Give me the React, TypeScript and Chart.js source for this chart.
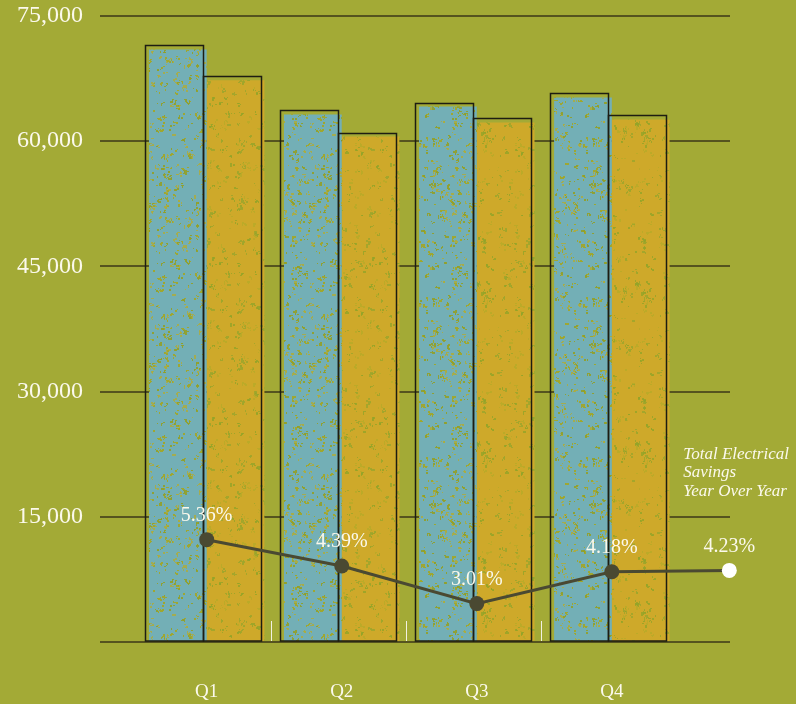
import { useEffect, useRef } from 'react';
import { Chart, registerables } from 'chart.js';

Chart.register(...registerables);

const quarters = ['Q1', 'Q2', 'Q3', 'Q4'];
const seriesBlue = [71000, 63200, 64150, 65250];
const seriesGold = [67300, 60550, 62250, 62600];
const savingsPct = [5.36, 4.39, 3.01, 4.18, 4.23];
const savingsX = [1, 2, 3, 4, 4.87];
const yTickValues = [0, 15000, 30000, 45000, 60000, 75000];
const noteLines = ['Total Electrical', 'Savings', 'Year Over Year'];

const BG = '#a3aa36';
const BLUE = '#73afb6';
const GOLD = '#cea92a';
const GRID = '#55531f';
const DARK = '#4a4932';
const TEXT = '#fbf9ec';
const SERIF = '"Liberation Serif", "DejaVu Serif", serif';

function makePattern(ctx: CanvasRenderingContext2D, base: string, seed: number, speck: string[], count: number) {
  const size = 160;
  const c = document.createElement('canvas');
  c.width = size;
  c.height = size;
  const g = c.getContext('2d')!;
  g.fillStyle = base;
  g.fillRect(0, 0, size, size);
  let s = seed >>> 0;
  const rnd = () => {
    s = (Math.imul(s, 1103515245) + 12345) >>> 0;
    return s / 4294967296;
  };
  for (let i = 0; i < count; i++) {
    const cx = Math.floor(rnd() * size);
    const cy = Math.floor(rnd() * size);
    g.fillStyle = speck[Math.floor(rnd() * speck.length)];
    const n = 1 + Math.floor(rnd() * 5);
    for (let k = 0; k < n; k++) {
      const x = cx + Math.floor(rnd() * 4) - 1;
      const y = cy + Math.floor(rnd() * 4) - 1;
      const w = 1 + Math.floor(rnd() * 2);
      const h = 1 + Math.floor(rnd() * 2);
      g.fillRect((x + size) % size, (y + size) % size, w, h);
    }
  }
  return ctx.createPattern(c, 'repeat')!;
}

const barOutlinePlugin = {
  id: 'barOutlines',
  beforeDatasetDraw(chart: any, args: any) {
    if (args.index !== 2) return;
    const ctx = chart.ctx as CanvasRenderingContext2D;
    ctx.save();
    ctx.strokeStyle = '#1d1d12';
    ctx.lineWidth = 1.5;
    [0, 1].forEach((di) => {
      chart.getDatasetMeta(di).data.forEach((el: any) => {
        const { x, y, base, width } = el.getProps(['x', 'y', 'base', 'width'], true);
        const left = Math.round(x - width / 2 - 4) + 0.5;
        const top = Math.round(y - 4) + 0.5;
        ctx.strokeRect(left, top, Math.round(width), Math.round(base) - top);
      });
    });
    ctx.restore();
  },
  afterDatasetDraw(chart: any, args: any) {
    if (args.index !== 2) return;
    const ctx = chart.ctx as CanvasRenderingContext2D;
    ctx.save();
    ctx.fillStyle = TEXT;
    ctx.font = `20px ${SERIF}`;
    ctx.textAlign = 'center';
    ctx.textBaseline = 'middle';
    chart.getDatasetMeta(2).data.forEach((el: any, i: number) => {
      ctx.fillText(`${savingsPct[i].toFixed(2)}%`, el.x, el.y - 24);
    });
    ctx.restore();
  },
  afterDraw(chart: any) {
    const ctx = chart.ctx as CanvasRenderingContext2D;
    const xs = chart.scales.x;
    const bottom = chart.chartArea.bottom;
    ctx.save();
    ctx.strokeStyle = '#f2f1e2';
    ctx.lineWidth = 1;
    for (let i = 1; i < quarters.length; i++) {
      const px = Math.round(xs.getPixelForValue(i + 0.5) - 3) + 0.5;
      ctx.beginPath();
      ctx.moveTo(px, bottom - 21);
      ctx.lineTo(px, bottom - 1);
      ctx.stroke();
    }
    ctx.fillStyle = TEXT;
    ctx.font = `italic 17px ${SERIF}`;
    ctx.textAlign = 'left';
    ctx.textBaseline = 'middle';
    const last = chart.getDatasetMeta(2).data[savingsPct.length - 1];
    noteLines.forEach((t, i) => {
      ctx.fillText(t, last.x - 46, last.y - 116 + i * 18.5);
    });
    ctx.restore();
  },
};

export default function App() {
  const ref = useRef<HTMLCanvasElement | null>(null);

  useEffect(() => {
    document.body.style.margin = '0';
    document.body.style.background = BG;
    const canvas = ref.current!;
    const ctx = canvas.getContext('2d')!;
    const bluePat = makePattern(ctx, BLUE, 9137, ['rgba(160,166,44,0.95)', 'rgba(146,160,40,0.9)', 'rgba(172,172,64,0.85)'], 520);
    const goldPat = makePattern(ctx, GOLD, 4271, ['rgba(158,166,44,0.85)', 'rgba(148,164,40,0.8)', 'rgba(186,170,40,0.9)'], 380);

    const chart = new Chart(canvas, {
      type: 'bar',
      data: {
        datasets: [
          {
            type: 'bar',
            label: 'Blue',
            data: quarters.map((_, i) => ({ x: i + 1, y: seriesBlue[i] })),
            backgroundColor: bluePat,
            borderWidth: 0,
            order: 1,
            xAxisID: 'x',
            yAxisID: 'y',
          },
          {
            type: 'bar',
            label: 'Gold',
            data: quarters.map((_, i) => ({ x: i + 1, y: seriesGold[i] })),
            backgroundColor: goldPat,
            borderWidth: 0,
            order: 1,
            xAxisID: 'x',
            yAxisID: 'y',
          },
          {
            type: 'line',
            label: 'Total Electrical Savings Year Over Year',
            data: savingsX.map((x, i) => ({ x, y: savingsPct[i] })),
            borderColor: DARK,
            borderWidth: 3,
            pointRadius: 7.5,
            pointBorderWidth: 0,
            pointBackgroundColor: savingsPct.map((_, i) => (i === savingsPct.length - 1 ? '#ffffff' : DARK)),
            tension: 0,
            order: 0,
            clip: false as any,
            xAxisID: 'x',
            yAxisID: 'y1',
          } as any,
        ],
      },
      options: {
        responsive: false,
        maintainAspectRatio: false,
        devicePixelRatio: 1,
        animation: false,
        layout: { padding: { top: 16, right: 66, left: 0, bottom: 0 }, autoPadding: false },
        datasets: {
          bar: { categoryPercentage: 0.855, barPercentage: 1 },
        },
        plugins: {
          legend: { display: false },
          tooltip: { enabled: false },
        },
        scales: {
          x: {
            type: 'linear',
            offset: false,
            min: 0.21,
            max: 4.875,
            grid: { display: false, offset: false },
            border: { display: false },
            afterBuildTicks: (axis: any) => {
              axis.ticks = quarters.map((_, i) => ({ value: i + 1 }));
            },
            afterFit: (scale: any) => {
              scale.height = 62;
              scale.paddingLeft = 0;
              scale.paddingRight = 0;
            },
            ticks: {
              padding: 31,
              color: TEXT,
              font: { family: SERIF, size: 19 },
              maxRotation: 0,
              autoSkip: false,
              callback: (v: any) => quarters[Math.round(Number(v)) - 1] ?? '',
            },
          },
          y: {
            type: 'linear',
            min: 0,
            max: 75000,
            afterBuildTicks: (axis: any) => {
              axis.ticks = yTickValues.map((v) => ({ value: v }));
            },
            afterFit: (scale: any) => {
              scale.width = 100;
              scale.paddingTop = 0;
              scale.paddingBottom = 0;
            },
            grid: { color: GRID, lineWidth: 2, drawTicks: false },
            border: { display: false },
            ticks: {
              padding: 17,
              color: TEXT,
              font: { family: SERIF, size: 24 },
              callback: (v: any) => (Number(v) === 0 ? '' : Number(v).toLocaleString('en-US')),
            },
          },
          y1: {
            type: 'linear',
            display: false,
            min: 1.6,
            max: 24.6,
          },
        },
      },
      plugins: [barOutlinePlugin],
    } as any);

    return () => chart.destroy();
  }, []);

  return (
    <div style={{ width: 796, height: 704, background: BG }}>
      <canvas ref={ref} width={796} height={704} style={{ display: 'block' }} />
    </div>
  );
}
